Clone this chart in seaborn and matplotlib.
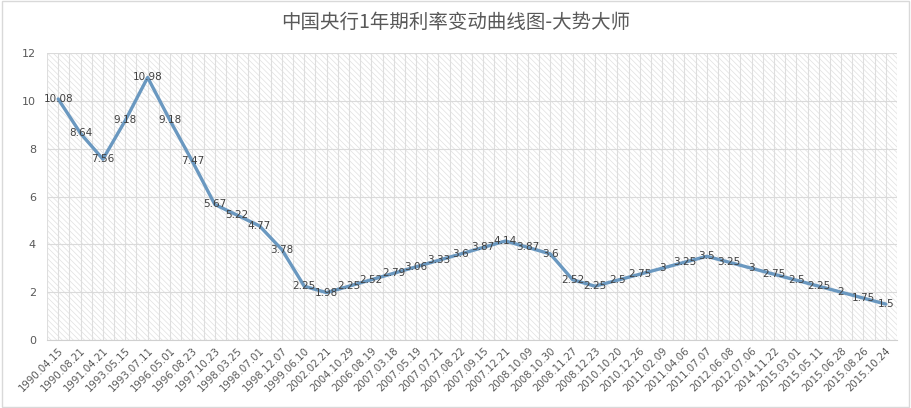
import pandas as pd
import seaborn as sns
import matplotlib.pyplot as plt
from matplotlib.patches import Rectangle
from matplotlib.ticker import MultipleLocator

dates = ["1990.04.15", "1990.08.21", "1991.04.21", "1993.05.15", "1993.07.11",
         "1996.05.01", "1996.08.23", "1997.10.23", "1998.03.25", "1998.07.01",
         "1998.12.07", "1999.06.10", "2002.02.21", "2004.10.29", "2006.08.19",
         "2007.03.18", "2007.05.19", "2007.07.21", "2007.08.22", "2007.09.15",
         "2007.12.21", "2008.10.09", "2008.10.30", "2008.11.27", "2008.12.23",
         "2010.10.20", "2010.12.26", "2011.02.09", "2011.04.06", "2011.07.07",
         "2012.06.08", "2012.07.06", "2014.11.22", "2015.03.01", "2015.05.11",
         "2015.06.28", "2015.08.26", "2015.10.24"]
rates = [10.08, 8.64, 7.56, 9.18, 10.98, 9.18, 7.47, 5.67, 5.22, 4.77,
         3.78, 2.25, 1.98, 2.25, 2.52, 2.79, 3.06, 3.33, 3.6, 3.87,
         4.14, 3.87, 3.6, 2.52, 2.25, 2.5, 2.75, 3, 3.25, 3.5,
         3.25, 3, 2.75, 2.5, 2.25, 2, 1.75, 1.5]
labels = ["10.08", "8.64", "7.56", "9.18", "10.98", "9.18", "7.47", "5.67", "5.22", "4.77",
          "3.78", "2.25", "1.98", "2.25", "2.52", "2.79", "3.06", "3.33", "3.6", "3.87",
          "4.14", "3.87", "3.6", "2.52", "2.25", "2.5", "2.75", "3", "3.25", "3.5",
          "3.25", "3", "2.75", "2.5", "2.25", "2", "1.75", "1.5"]

df = pd.DataFrame({"pos": range(len(dates)), "date": dates, "rate": rates})

sns.set_style("white")
plt.rcParams['font.family'] = ['Noto Sans CJK SC', 'DejaVu Sans']
plt.rcParams['hatch.linewidth'] = 0.5

fig = plt.figure(figsize=(9.11, 4.08), dpi=100)
ax = fig.add_axes([0.0516, 0.1667, 0.9330, 0.7033])

# fondo rayado como en excel
ax.add_patch(Rectangle((0, 0), 1, 1, transform=ax.transAxes, facecolor='white',
                       edgecolor='#e0e0e0', hatch='\\\\\\\\\\\\', lw=0, zorder=0))

sns.lineplot(data=df, x="pos", y="rate", color='#6a98c0', linewidth=2.4, ax=ax, zorder=3)

for p, r, t in zip(df["pos"], df["rate"], labels):
    ax.text(p, r, t, ha='center', va='center', fontsize=7.5, color='#404040', zorder=4,
            family=['DejaVu Sans'])

ax.set_xlim(-0.5, len(dates) - 0.5)
ax.set_ylim(0, 12)
ax.yaxis.set_major_locator(MultipleLocator(2))
ax.set_xticks(df["pos"])
ax.set_xticklabels(dates, rotation=45, ha='right', rotation_mode='anchor',
                   fontsize=7.3, color='#595959', family=['DejaVu Sans'])
ax.xaxis.set_minor_locator(MultipleLocator(0.5))
ax.tick_params(axis='y', labelsize=8, colors='#595959', length=0, pad=8)
ax.tick_params(axis='x', length=0, which='both', pad=4)
for lab in ax.get_yticklabels():
    lab.set_family(['DejaVu Sans'])

ax.grid(True, which='both', axis='x', color='#dedede', linewidth=0.8, zorder=1)
ax.grid(True, which='major', axis='y', color='#dadada', linewidth=0.8, zorder=1)
ax.set_axisbelow(True)
for s in ['top', 'right', 'left']:
    ax.spines[s].set_visible(False)
ax.spines['bottom'].set_color('#d0d0d0')
ax.set_xlabel("")
ax.set_ylabel("")

fig.text(0.5, 0.945, "中国央行1年期利率变动曲线图-大势大师", ha='center', va='center',
         fontsize=14, color='#595959', fontweight='medium')

fig.patches.append(Rectangle((0.002, 0.002), 0.996, 0.996, transform=fig.transFigure,
                             fill=False, edgecolor='#d9d9d9', lw=1))

fig.savefig("out.png", dpi=100)
